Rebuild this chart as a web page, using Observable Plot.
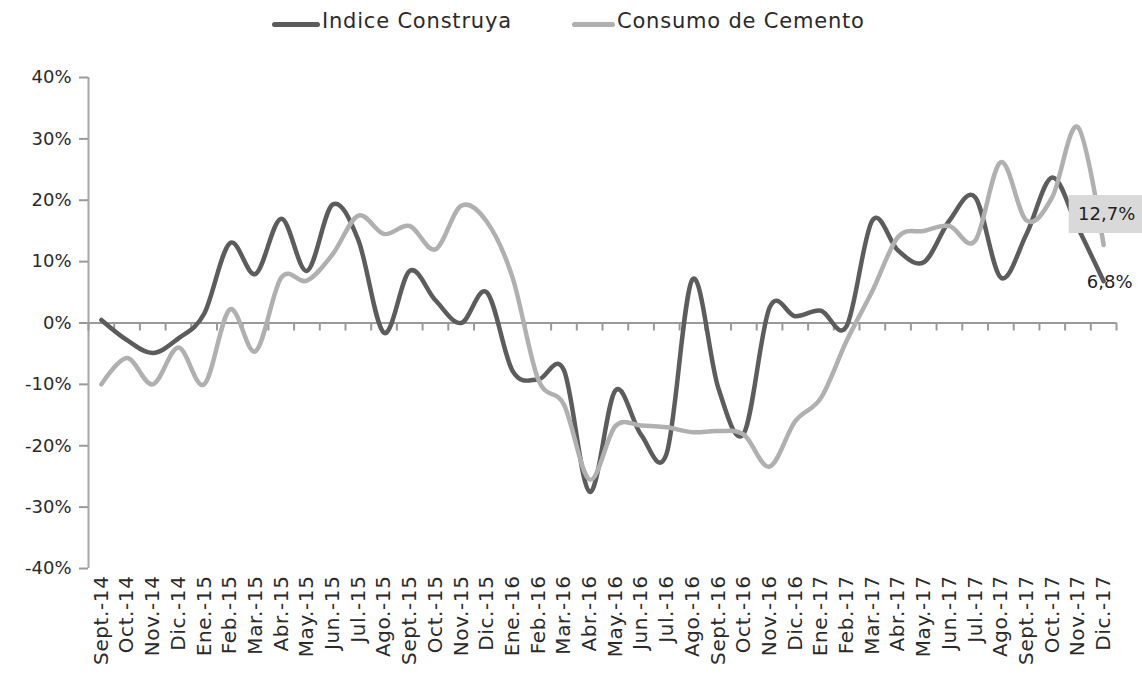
<!DOCTYPE html>
<html>
<head>
<meta charset="utf-8">
<script src="https://cdn.jsdelivr.net/npm/d3@7"></script>
<script src="https://cdn.jsdelivr.net/npm/@observablehq/plot@0.6"></script>
<style>
  html, body { margin: 0; padding: 0; background: #fff; }
  #wrap { width: 1142px; height: 674px; position: relative; font-family: "DejaVu Sans", sans-serif; }
  #legend { position: relative; height: 45px; width: 1142px; color: #2a2a2a; font-size: 21px; letter-spacing: 0.8px; }
  .sw { position: absolute; top: 22px; height: 5px; border-radius: 3px; }
  .lt { position: absolute; top: 9px; white-space: nowrap; }
  #chart g[aria-label="x-axis tick label"] text { letter-spacing: 0.6px; }
</style>
</head>
<body>
<div id="wrap">
  <div id="legend"></div>
  <div id="chart"></div>
</div>
<script>
const months = ["Sept.-14","Oct.-14","Nov.-14","Dic.-14","Ene.-15","Feb.-15","Mar.-15","Abr.-15","May.-15","Jun.-15","Jul.-15","Ago.-15","Sept.-15","Oct.-15","Nov.-15","Dic.-15","Ene.-16","Feb.-16","Mar.-16","Abr.-16","May.-16","Jun.-16","Jul.-16","Ago.-16","Sept.-16","Oct.-16","Nov.-16","Dic.-16","Ene.-17","Feb.-17","Mar.-17","Abr.-17","May.-17","Jun.-17","Jul.-17","Ago.-17","Sept.-17","Oct.-17","Nov.-17","Dic.-17"];

const seriesNames = ["Indice Construya", "Consumo de Cemento"];
const seriesColors = ["#5c5c5c", "#b0b0b0"];

// variación anual, %
const construya = [0.5, -2.8, -4.9, -2.5, 1.5, 13, 8, 17, 8.5, 19.3, 13.5, -1.6, 8.5, 3.7, 0, 5, -7.8, -9.2, -7.7, -27.5, -11, -18.2, -21.2, 7.1, -10.5, -18, 2.5, 1.1, 2, -0.5, 16.7, 11.8, 9.9, 16.7, 20.5, 7.4, 14.5, 23.7, 15.5, 6.8];
const cemento = [-10, -5.7, -10, -4, -10, 2.2, -4.6, 7.4, 6.9, 11.2, 17.5, 14.5, 15.8, 12, 19.1, 16.5, 7.4, -9.2, -13.3, -25.5, -16.8, -16.7, -17, -17.8, -17.6, -18.2, -23.4, -16, -12.2, -2.9, 5.2, 14, 15, 15.8, 13.4, 26.2, 16.7, 20.5, 31.9, 12.7];

const yTicks = [-0.4, -0.3, -0.2, -0.1, 0, 0.1, 0.2, 0.3, 0.4];

const data = [];
months.forEach((m, i) => {
  data.push({i, serie: seriesNames[0], v: construya[i] / 100});
  data.push({i, serie: seriesNames[1], v: cemento[i] / 100});
});
const last = months.length - 1;
const lastC = [{i: last, v: construya[last] / 100, t: construya[last].toFixed(1).replace(".", ",") + "%"}];
const lastM = [{i: last, v: cemento[last] / 100, t: cemento[last].toFixed(1).replace(".", ",") + "%"}];
const boundaries = d3.range(months.length + 1).map(k => k - 0.5);

// legend
const legend = document.getElementById("legend");
const legPos = [[272, 48, 322], [572, 43, 617]];
seriesNames.forEach((s, k) => {
  const sw = document.createElement("div");
  sw.className = "sw";
  sw.style.left = legPos[k][0] + "px";
  sw.style.width = legPos[k][1] + "px";
  sw.style.background = seriesColors[k];
  legend.appendChild(sw);
  const t = document.createElement("div");
  t.className = "lt";
  t.style.left = legPos[k][2] + "px";
  t.textContent = s;
  legend.appendChild(t);
});

const boxSymbol = { draw(ctx) { ctx.rect(-38, -19, 76, 38); } };

const chart = Plot.plot({
  width: 1142,
  height: 629,
  marginTop: 32,
  marginBottom: 106,
  marginLeft: 88,
  marginRight: 26,
  style: { fontFamily: "DejaVu Sans, sans-serif", background: "#fff", color: "#2a2a2a", overflow: "visible" },
  x: { type: "linear", domain: [-0.5, months.length - 0.5] },
  y: { domain: [-0.4, 0.4] },
  color: { domain: seriesNames, range: seriesColors },
  marks: [
    Plot.axisY({ ticks: yTicks, tickFormat: d => Math.round(d * 100) + "%", tickSize: 9, tickPadding: 8, fontSize: 18, stroke: "#9a9a9a", strokeWidth: 2, fill: "#2a2a2a", label: null }),
    Plot.axisX({ ticks: d3.range(months.length), tickFormat: i => months[i], tickRotate: -90, tickSize: 0, tickPadding: 7, fontSize: 20, fill: "#2a2a2a", label: null }),
    Plot.ruleX([-0.5], { stroke: "#a6a6a6", strokeWidth: 2 }),
    Plot.ruleX(boundaries, { x: d => d, y1: 0, y2: -0.013, stroke: "#9a9a9a", strokeWidth: 2 }),
    Plot.ruleY([0], { stroke: "#9a9a9a", strokeWidth: 2 }),
    Plot.line(data, { x: "i", y: "v", z: "serie", stroke: "serie", curve: "cardinal", strokeWidth: 4.5, strokeLinecap: "round", strokeLinejoin: "round" }),
    Plot.dot(lastM, { x: "i", y: "v", dy: -31, dx: 3, symbol: boxSymbol, fill: "#d9d9d9", stroke: "none" }),
    Plot.text(lastM, { x: "i", y: "v", text: "t", dy: -31, dx: 3, fontSize: 18, fill: "#222" }),
    Plot.text(lastC, { x: "i", y: "v", text: "t", dy: 1, dx: 6, fontSize: 18, fill: "#222" })
  ]
});
document.getElementById("chart").appendChild(chart);
</script>
</body>
</html>
